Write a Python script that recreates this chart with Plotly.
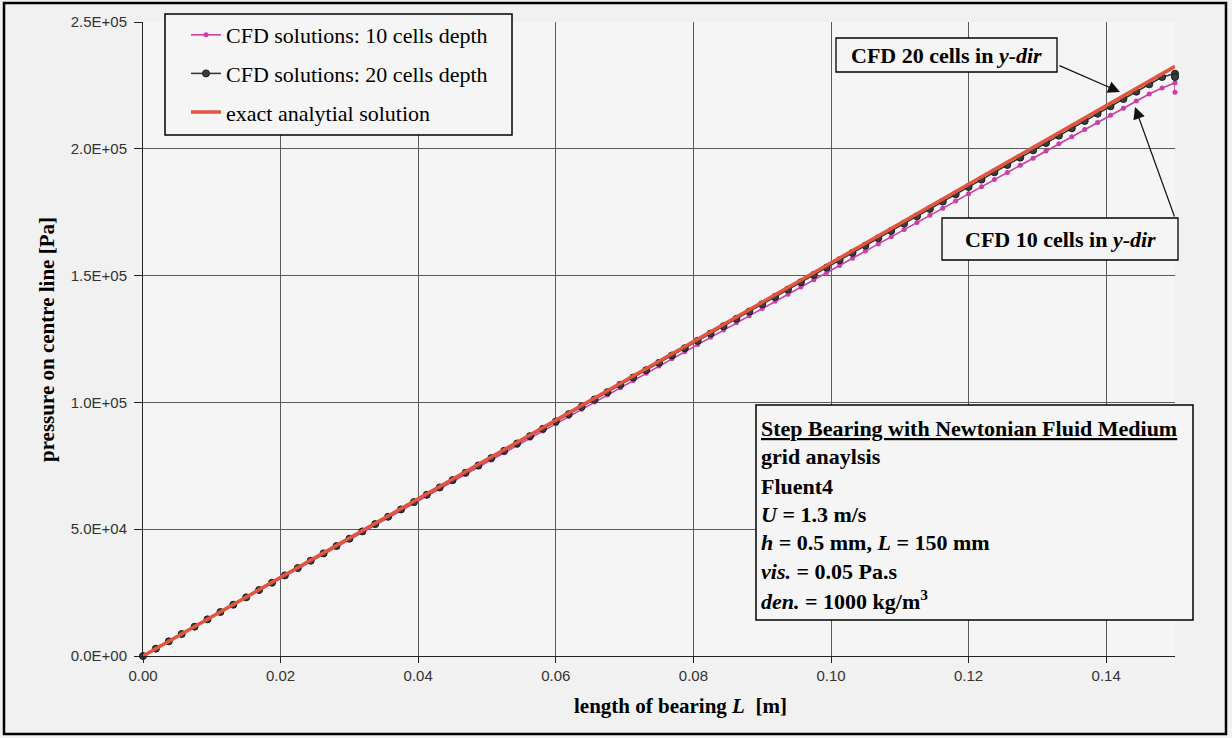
import plotly.graph_objects as go

# ---------------- data ----------------
x_pos = [0.0, 0.001875, 0.00375, 0.005625, 0.0075, 0.009375, 0.01125, 0.013125, 0.015, 0.016875,
         0.01875, 0.020625, 0.0225, 0.024375, 0.02625, 0.028125, 0.03, 0.031875, 0.03375, 0.035625,
         0.0375, 0.039375, 0.04125, 0.043125, 0.045, 0.046875, 0.04875, 0.050625, 0.0525, 0.054375,
         0.05625, 0.058125, 0.06, 0.061875, 0.06375, 0.065625, 0.0675, 0.069375, 0.07125, 0.073125,
         0.075, 0.076875, 0.07875, 0.080625, 0.0825, 0.084375, 0.08625, 0.088125, 0.09, 0.091875,
         0.09375, 0.095625, 0.0975, 0.099375, 0.10125, 0.103125, 0.105, 0.106875, 0.10875, 0.110625,
         0.1125, 0.114375, 0.11625, 0.118125, 0.12, 0.121875, 0.12375, 0.125625, 0.1275, 0.129375,
         0.13125, 0.133125, 0.135, 0.136875, 0.13875, 0.140625, 0.1425, 0.144375, 0.14625, 0.148125,
         0.15]

# CFD, 10 cells depth (last point: end value re-plotted)
x_10 = x_pos + [0.15]
p_10 = [0, 2880, 5750, 8620, 11500, 14370, 17240, 20110, 22980, 25850,
        28720, 31580, 34450, 37320, 40180, 43040, 45900, 48770, 51630, 54490,
        57350, 60200, 63060, 65920, 68770, 71630, 74480, 77330, 80180, 83030,
        85880, 88730, 91580, 94430, 97270, 100120, 102960, 105810, 108650, 111490,
        114330, 117170, 120010, 122850, 125680, 128520, 131360, 134190, 137020, 139860,
        142690, 145520, 148350, 151180, 154010, 156830, 159660, 162480, 165310, 168130,
        170960, 173780, 176600, 179420, 182240, 185060, 187870, 190690, 193500, 196320,
        199130, 201950, 204760, 207570, 210380, 213190, 216000, 218800, 221610, 224000,
        226000, 222300]

# CFD, 20 cells depth
x_20 = x_pos + [0.15]
p_20 = [0, 2890, 5780, 8670, 11560, 14450, 17340, 20230, 23120, 26010,
        28900, 31790, 34680, 37570, 40460, 43350, 46240, 49130, 52020, 54910,
        57800, 60690, 63580, 66470, 69360, 72250, 75140, 78030, 80920, 83810,
        86700, 89590, 92480, 95370, 98260, 101150, 104040, 106930, 109820, 112710,
        115600, 118490, 121380, 124270, 127160, 130050, 132940, 135830, 138720, 141610,
        144500, 147390, 150280, 153170, 156060, 158950, 161840, 164730, 167620, 170510,
        173400, 176290, 179180, 182070, 184960, 187850, 190740, 193630, 196520, 199410,
        202300, 205190, 208080, 210970, 213860, 216750, 219640, 222530, 225420, 228310,
        229600, 228300]

# exact analytical solution (straight line)
x_exact = [0.0, 0.15]
p_exact = [0, 232500]

y_tickvals = [0, 50000, 100000, 150000, 200000, 250000]
y_ticktext = ["0.0E+00", "5.0E+04", "1.0E+05", "1.5E+05", "2.0E+05", "2.5E+05"]
x_tickvals = [0.0, 0.02, 0.04, 0.06, 0.08, 0.10, 0.12, 0.14]
x_ticktext = ["0.00", "0.02", "0.04", "0.06", "0.08", "0.10", "0.12", "0.14"]

info_lines = [
    "<b><u>Step Bearing with Newtonian Fluid Medium</u></b>",
    "<b>grid anaylsis</b>",
    "<b>Fluent4</b>",
    "<b><i>U</i> = 1.3 m/s</b>",
    "<b><i>h</i> = 0.5 mm, <i>L</i> = 150 mm</b>",
    "<b><i>vis.</i> = 0.05 Pa.s</b>",
    "<b><i>den.</i> = 1000 kg/m<sup>3</sup></b>",
]

# ---------------- layout helpers (pixel -> paper) ----------------
W, H = 1232, 738
L_M, R_M, T_M, B_M = 143, 57, 22, 82
PW, PH = W - L_M - R_M, H - T_M - B_M


def px(x):
    return (x - L_M) / PW


def py(y):
    return (H - B_M - y) / PH


SERIF = "Liberation Serif, Times New Roman, serif"
SANS = "Liberation Sans, Arial, sans-serif"
PAPER_BG = "#f1f1f1"
PLOT_BG = "#f5f5f5"

fig = go.Figure()
fig.add_trace(go.Scatter(
    x=x_10, y=p_10, mode="lines+markers", name="CFD solutions: 10 cells depth",
    line=dict(color="#c93fa8", width=1.6),
    marker=dict(color="#c93fa8", size=5, symbol="circle"),
    legendgroup="a", cliponaxis=False))
fig.add_trace(go.Scatter(
    x=x_20, y=p_20, mode="lines+markers", name="CFD solutions: 20 cells depth",
    line=dict(color="#333333", width=1.5),
    marker=dict(color="#3c3c3c", size=7, symbol="circle", line=dict(color="#1a1a1a", width=1)),
    legendgroup="b", cliponaxis=False))
fig.add_trace(go.Scatter(
    x=x_exact, y=p_exact, mode="lines", name="exact analytial solution",
    line=dict(color="#e2553f", width=3.5),
    legendgroup="c", cliponaxis=False))

shapes = [
    # outer frame
    dict(type="rect", xref="paper", yref="paper", x0=px(4), x1=px(1226), y0=py(3), y1=py(734),
         line=dict(color="black", width=2.5), fillcolor="rgba(0,0,0,0)", layer="below"),
    # legend box
    dict(type="rect", xref="paper", yref="paper", x0=px(165), x1=px(512), y0=py(14), y1=py(135),
         line=dict(color="black", width=1.5), fillcolor=PLOT_BG, layer="above"),
    # box: CFD 20
    dict(type="rect", xref="paper", yref="paper", x0=px(836), x1=px(1057), y0=py(38), y1=py(72),
         line=dict(color="black", width=1.3), fillcolor=PLOT_BG, layer="above"),
    # box: CFD 10
    dict(type="rect", xref="paper", yref="paper", x0=px(942), x1=px(1178), y0=py(218), y1=py(260),
         line=dict(color="black", width=1.3), fillcolor=PLOT_BG, layer="above"),
    # info box
    dict(type="rect", xref="paper", yref="paper", x0=px(756), x1=px(1193), y0=py(405), y1=py(620),
         line=dict(color="black", width=1.5), fillcolor=PLOT_BG, layer="above"),
]

annotations = [
    dict(xref="paper", yref="paper", x=px(946), y=py(55), xanchor="center", yanchor="middle",
         text="<b>CFD 20 cells in <i>y-dir</i></b>", showarrow=False,
         font=dict(family=SERIF, size=22, color="black")),
    dict(xref="paper", yref="paper", x=px(1060), y=py(239), xanchor="center", yanchor="middle",
         text="<b>CFD 10 cells in <i>y-dir</i></b>", showarrow=False,
         font=dict(family=SERIF, size=22, color="black")),
    # arrows
    dict(xref="paper", yref="paper", x=px(1120), y=py(92), text="", showarrow=True,
         ax=-62, ay=-27, arrowhead=2, arrowsize=2.0, arrowwidth=1.2, arrowcolor="#111"),
    dict(xref="paper", yref="paper", x=px(1135), y=py(107), text="", showarrow=True,
         ax=40, ay=111, arrowhead=2, arrowsize=2.0, arrowwidth=1.2, arrowcolor="#111"),
    # axis titles
    dict(xref="paper", yref="paper", x=px(47), y=py(340), xanchor="center", yanchor="middle",
         text="<b>pressure on centre line [Pa]</b>", textangle=-90, showarrow=False,
         font=dict(family=SERIF, size=21, color="black")),
    dict(xref="paper", yref="paper", x=px(680), y=py(706), xanchor="center", yanchor="middle",
         text="<b>length of bearing <i>L</i>  [m]</b>", showarrow=False,
         font=dict(family=SERIF, size=21, color="black")),
]

line_y = [428, 457, 486, 514, 542, 571, 600]
for txt, yy in zip(info_lines, line_y):
    annotations.append(dict(xref="paper", yref="paper", x=px(759), y=py(yy),
                            xanchor="left", yanchor="middle", text=txt, showarrow=False,
                            font=dict(family=SERIF, size=22, color="black")))

fig.update_layout(
    width=W, height=H,
    margin=dict(l=L_M, r=R_M, t=T_M, b=B_M),
    paper_bgcolor=PAPER_BG, plot_bgcolor=PLOT_BG,
    showlegend=True,
    legend=dict(x=px(186), y=py(14), xanchor="left", yanchor="top",
                bgcolor="rgba(0,0,0,0)", borderwidth=0,
                font=dict(family=SERIF, size=22, color="black"),
                traceorder="grouped", tracegroupgap=7, itemwidth=30),
    xaxis=dict(range=[0, 0.15], tickvals=x_tickvals, ticktext=x_ticktext,
               showgrid=True, gridcolor="#5a5a5a", gridwidth=1,
               showline=True, linecolor="#222", linewidth=1, zeroline=False,
               ticks="outside", ticklen=6, tickcolor="#222",
               tickfont=dict(family=SANS, size=15, color="#333")),
    yaxis=dict(range=[0, 250000], tickvals=y_tickvals, ticktext=y_ticktext,
               showgrid=True, gridcolor="#5a5a5a", gridwidth=1,
               showline=True, linecolor="#222", linewidth=1, zeroline=False,
               ticks="outside", ticklen=8, tickcolor="#222", ticklabelstandoff=4,
               tickfont=dict(family=SANS, size=15, color="#333")),
    shapes=shapes, annotations=annotations,
)

fig.write_html("out.html")
